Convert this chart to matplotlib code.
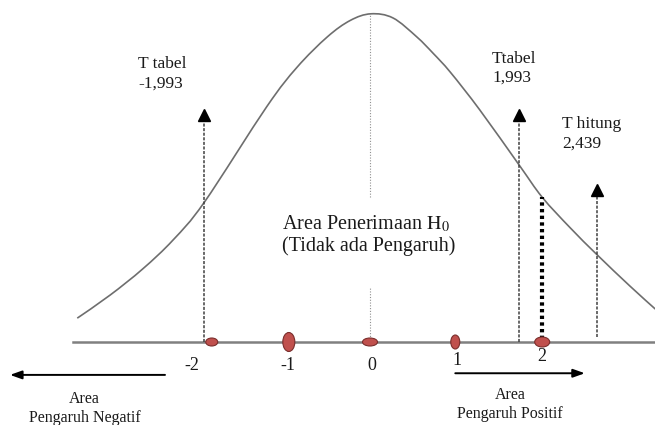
import matplotlib
matplotlib.use('Agg')
import matplotlib.pyplot as plt
from matplotlib.patches import Ellipse, PathPatch
from matplotlib.path import Path

plt.rcParams['font.family'] = ['Liberation Serif', 'DejaVu Serif']
plt.rcParams['mathtext.fontset'] = 'stix'

# kurva : t vs tinggi kurva
curve_t = [-3.57, -3.17, -2.77, -2.40, -2.02, -1.26, -0.89, -0.52,
           -0.24, 0.01, 0.28, 0.57, 0.77, 0.98, 1.34, 1.82, 2.10,
           2.44, 2.77, 3.17, 3.48]
curve_d = [0.029, 0.057, 0.089, 0.1242, 0.170, 0.286, 0.334, 0.371,
           0.391, 0.399, 0.394, 0.371, 0.351, 0.328, 0.282, 0.215, 0.176,
           0.139, 0.106, 0.068, 0.040]

# titik pada sumbu
tick_lbl = ['-2', '-1', '0', '1', '2']
tick_t = [-2.17, -1.0, 0.02, 1.06, 2.10]
mark_t = [-1.93, -0.99, 0.0, 1.04, 2.10]

# panah T tabel / T hitung
arrow_lbl = ['T tabel\n-1,993', 'Ttabel\n1,993', 'T hitung\n2,439']
arrow_t = [-2.02, 1.82, 2.77]
arrow_top = [0.282, 0.282, 0.191]
arrow_bot = [0.0, 0.0, 0.006]
label_t = [-2.83, 1.49, 2.34]
label_d = [0.326, 0.333, 0.253]

t_hitung_line = 2.10

# ukuran dalam piksel -> satuan data
PX_X = 82.0
PX_Y = 822.5


def smooth_path(xs, ys):
    # garis halus lewat titik-titik (catmull-rom -> bezier)
    pts = list(zip(xs, ys))
    verts = [pts[0]]
    codes = [Path.MOVETO]
    for i in range(len(pts) - 1):
        p0 = pts[i - 1] if i > 0 else pts[i]
        p1 = pts[i]
        p2 = pts[i + 1]
        p3 = pts[i + 2] if i + 2 < len(pts) else pts[i + 1]
        c1 = (p1[0] + (p2[0] - p0[0]) / 6, p1[1] + (p2[1] - p0[1]) / 6)
        c2 = (p2[0] - (p3[0] - p1[0]) / 6, p2[1] - (p3[1] - p1[1]) / 6)
        verts += [c1, c2, p2]
        codes += [Path.CURVE4] * 3
    return Path(verts, codes)


fig = plt.figure(figsize=(6.55, 4.25), dpi=100)
ax = fig.add_axes([0, 0, 1, 1])
ax.set_xlim(-370 / PX_X, 285 / PX_X)
ax.set_ylim(-83 / PX_Y, 342 / PX_Y)
ax.axis('off')

txt = '#1a1a1a'

# garis dasar
ax.plot([-3.62, 3.48], [0, 0], color='#808080', lw=1.8, zorder=2)

# kurva normal
ax.add_patch(PathPatch(smooth_path(curve_t, curve_d), facecolor='none',
                       edgecolor='#6e6e6e', lw=1.2, zorder=3))

# garis tengah (terputus oleh teks)
ax.plot([0, 0], [0, 0.067], color='#909090', lw=0.8, ls=(0, (1, 1.5)), zorder=2)
ax.plot([0, 0], [0.176, 0.399], color='#909090', lw=0.8, ls=(0, (1, 1.5)), zorder=2)

# panah vertikal putus-putus
for t, top, bot in zip(arrow_t, arrow_top, arrow_bot):
    ax.plot([t, t], [bot, top - 0.008], color='#404040', lw=1.1, ls=(0, (2, 1)), zorder=4)
    ax.plot([t], [top - 0.006], marker='^', color='black', markersize=8, zorder=5)

for s, t, d in zip(arrow_lbl, label_t, label_d):
    ax.text(t, d, s, fontsize=12.5, color=txt, ha='left', va='center', linespacing=1.25)

# garis titik tebal t hitung
curve_at = 0.176
ax.plot([t_hitung_line, t_hitung_line], [0.004, curve_at], color='black', lw=3,
        ls=(0, (0.8, 0.8)), zorder=4)

# titik merah
mark_w = [12, 12, 15, 9, 15]
mark_h = [8, 19, 8, 14, 10]
for t, w, h in zip(mark_t, mark_w, mark_h):
    ax.add_patch(Ellipse((t, 0), w / PX_X, h / PX_Y, facecolor='#c0504d',
                         edgecolor='#7a2e2c', lw=0.8, zorder=6))

tick_y = [-0.028, -0.028, -0.028, -0.022, -0.018]
for s, t, y in zip(tick_lbl, tick_t, tick_y):
    ax.text(t, y, s, fontsize=13, color=txt, ha='center', va='center')

# teks area penerimaan
ax.text(-1.07, 0.130, 'Area Penerimaan $\\mathrm{H}_0$\n(Tidak ada Pengaruh)',
        fontsize=14.5, color=txt, ha='left', va='center', linespacing=1.15)

# panah area pengaruh
ap = dict(arrowstyle='-|>,head_length=0.7,head_width=0.25', color='black', lw=1.4,
          shrinkA=0, shrinkB=0)
ax.annotate('', xy=(-4.39, -0.040), xytext=(-2.50, -0.040), arrowprops=ap)
ax.annotate('', xy=(2.62, -0.038), xytext=(1.04, -0.038), arrowprops=ap)

ax.text(-3.48, -0.081, 'Area\nPengaruh Negatif', fontsize=11.5, color=txt,
        ha='center', va='center', linespacing=1.3)
ax.text(1.71, -0.076, 'Area\nPengaruh Positif', fontsize=11.5, color=txt,
        ha='center', va='center', linespacing=1.3)

fig.savefig('out.png', dpi=100, facecolor='white')
